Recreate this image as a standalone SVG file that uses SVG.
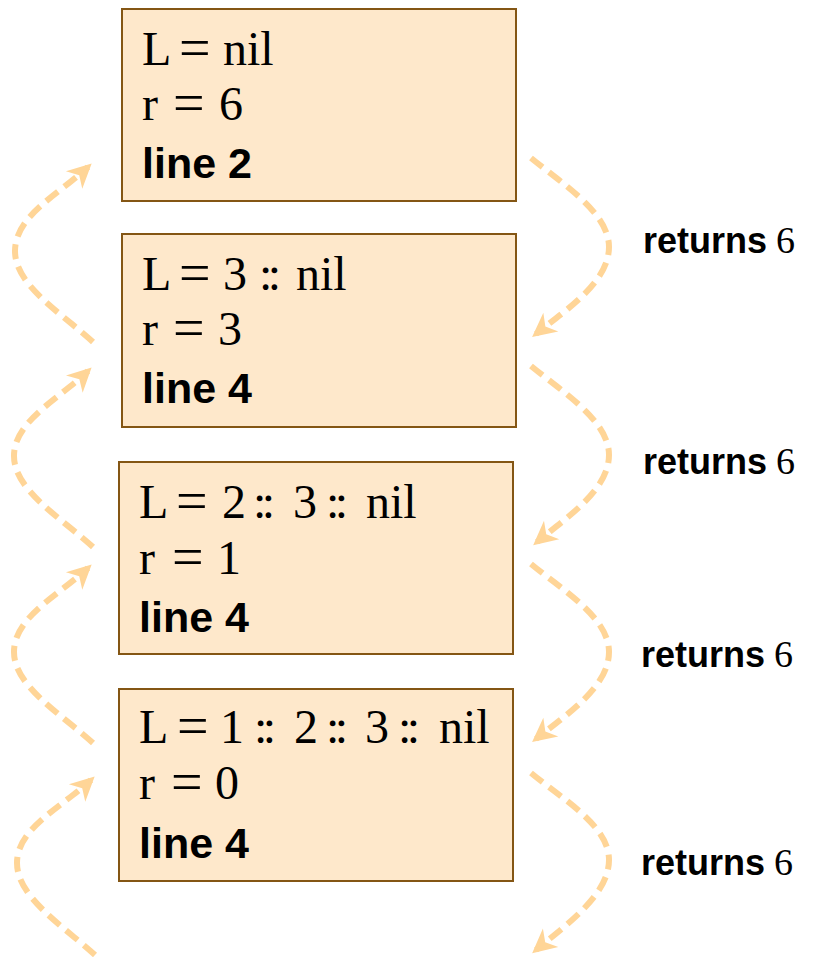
<svg xmlns="http://www.w3.org/2000/svg" width="814" height="957" viewBox="0 0 814 957">
  <style>
    .frame { fill: #FEE8CB; stroke: #845614; stroke-width: 2; }
    .math { font-family: "Liberation Serif", "Times New Roman", serif; font-size: 48px; fill: #000; }
    .eq { font-size: 56px; }
    .colons { letter-spacing: -4.5px; }
    .code { font-family: "Liberation Sans", Arial, sans-serif; font-weight: bold; font-size: 43px; fill: #000; }
    .ret { font-family: "Liberation Sans", Arial, sans-serif; font-weight: bold; font-size: 36px; fill: #000; }
    .retnum { font-family: "Liberation Serif", "Times New Roman", serif; font-size: 38px; fill: #000; }
    .flow { fill: none; stroke: #FFD597; stroke-width: 6; stroke-dasharray: 15 8; marker-end: url(#head); }
  </style>
  <defs>
    <marker id="head" markerUnits="userSpaceOnUse" viewBox="-20 -14 28 28" refX="0" refY="0" markerWidth="28" markerHeight="28" orient="auto">
      <path d="M5,0 L-19,-12 L-12,0 L-19,12 Z" fill="#FFD597"/>
    </marker>
  </defs>

  <!-- stack frames -->
  <g id="frame1">
    <rect class="frame" x="122" y="9" width="394" height="192"/>
    <text class="math"><tspan x="142" y="65">L</tspan><tspan class="eq" x="179" y="67">=</tspan><tspan x="223" y="65">nil</tspan></text>
    <text class="math"><tspan x="142" y="120">r</tspan><tspan class="eq" x="173" y="122">=</tspan><tspan x="219" y="120">6</tspan></text>
    <text class="code" x="142" y="178">line 2</text>
  </g>
  <g id="frame2">
    <rect class="frame" x="122" y="234" width="394" height="193"/>
    <text class="math"><tspan x="142" y="290">L</tspan><tspan class="eq" x="179" y="292">=</tspan><tspan x="223" y="290">3</tspan><tspan class="colons" x="259">::</tspan><tspan x="296">nil</tspan></text>
    <text class="math"><tspan x="142" y="345">r</tspan><tspan class="eq" x="173" y="347">=</tspan><tspan x="218" y="345">3</tspan></text>
    <text class="code" x="142" y="403">line 4</text>
  </g>
  <g id="frame3">
    <rect class="frame" x="119" y="462" width="394" height="192"/>
    <text class="math"><tspan x="139" y="518">L</tspan><tspan class="eq" x="176" y="520">=</tspan><tspan x="222" y="518">2</tspan><tspan class="colons" x="253">::</tspan><tspan x="293">3</tspan><tspan class="colons" x="326">::</tspan><tspan x="366">nil</tspan></text>
    <text class="math"><tspan x="139" y="574">r</tspan><tspan class="eq" x="172" y="576">=</tspan><tspan x="217" y="574">1</tspan></text>
    <text class="code" x="139" y="632">line 4</text>
  </g>
  <g id="frame4">
    <rect class="frame" x="119" y="689" width="394" height="192"/>
    <text class="math"><tspan x="139" y="743">L</tspan><tspan class="eq" x="177" y="745">=</tspan><tspan x="220" y="743">1</tspan><tspan class="colons" x="254">::</tspan><tspan x="294">2</tspan><tspan class="colons" x="326">::</tspan><tspan x="365">3</tspan><tspan class="colons" x="398">::</tspan><tspan x="439">nil</tspan></text>
    <text class="math"><tspan x="139" y="799">r</tspan><tspan class="eq" x="171" y="801">=</tspan><tspan x="215" y="799">0</tspan></text>
    <text class="code" x="139" y="858">line 4</text>
  </g>

  <!-- return values -->
  <g id="labels">
    <text y="253"><tspan class="ret" x="643">returns</tspan><tspan class="retnum" x="776">6</tspan></text>
    <text y="474"><tspan class="ret" x="643">returns</tspan><tspan class="retnum" x="776">6</tspan></text>
    <text y="667"><tspan class="ret" x="641">returns</tspan><tspan class="retnum" x="774">6</tspan></text>
    <text y="875"><tspan class="ret" x="641">returns</tspan><tspan class="retnum" x="774">6</tspan></text>
  </g>

  <!-- call arrows (left, upward) and return arrows (right, downward) -->
  <g id="connectors">
    <path class="flow" d="M93 342 c -33 -30, -78 -57, -78 -91 c 0 -35, 44 -57, 73 -84"/>
    <path class="flow" d="M93 547 c -33 -30, -79 -57, -79 -91 c 0 -35, 45 -57, 74 -85"/>
    <path class="flow" d="M93 743 c -33 -30, -79 -57, -79 -91 c 0 -35, 45 -57, 74 -84"/>
    <path class="flow" d="M95 955 c -33 -30, -78 -58, -78 -92 c 0 -35, 45 -56, 74 -83"/>

    <path class="flow" d="M531 158 c 33 27, 78 55, 78 89 c 0 35, -43 63, -73 87"/>
    <path class="flow" d="M531 366 c 33 27, 78 55, 78 89 c 0 35, -43 63, -72 87"/>
    <path class="flow" d="M531 564 c 33 27, 78 54, 78 88 c 0 35, -43 63, -73 87"/>
    <path class="flow" d="M531 773 c 33 27, 78 53, 78 87 c 0 35, -43 65, -73 90"/>
  </g>
</svg>
